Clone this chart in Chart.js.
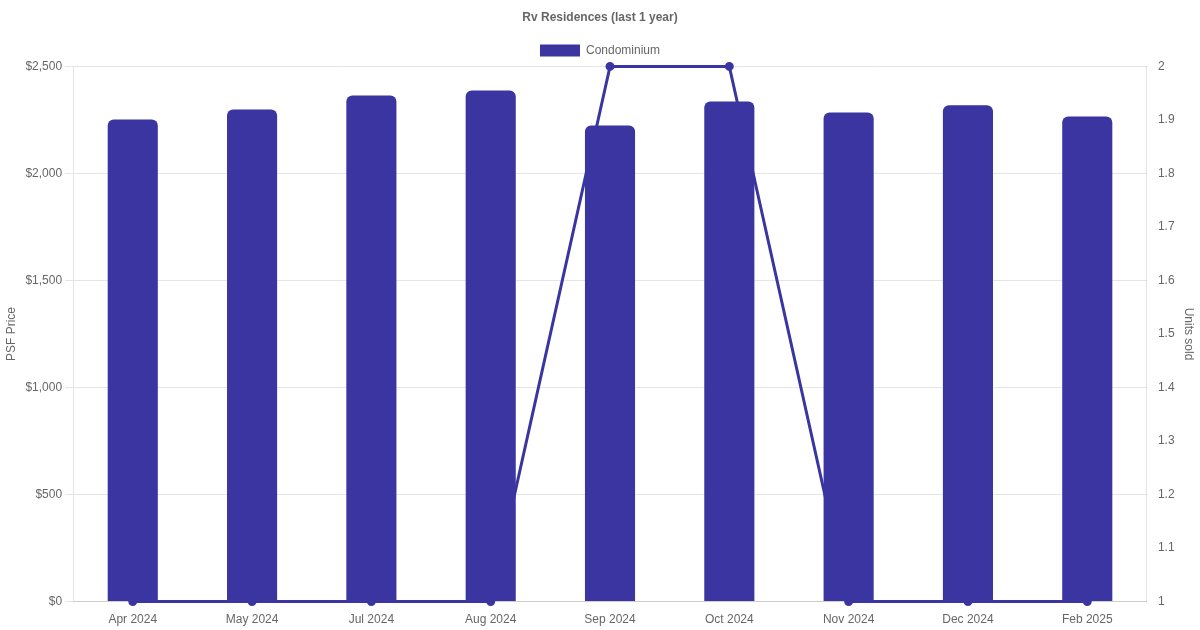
<!DOCTYPE html>
<html>
<head>
<meta charset="utf-8">
<script src="https://cdn.jsdelivr.net/npm/chart.js@4"></script>
<style>
  body { margin: 0; background: #fff; }
  #wrap { width: 1200px; height: 630px; }
</style>
</head>
<body>
<div id="wrap"><canvas id="chart"></canvas></div>
<script>
// values
var months = ['Apr 2024', 'May 2024', 'Jul 2024', 'Aug 2024', 'Sep 2024', 'Oct 2024', 'Nov 2024', 'Dec 2024', 'Feb 2025'];
var psfPrice = [2252, 2299, 2364, 2388, 2224, 2336, 2285, 2318, 2266];
var unitsSold = [1, 1, 1, 1, 2, 2, 1, 1, 1];

var color = '#3a35a0';
Chart.defaults.font.family = "'Liberation Sans', Arial, sans-serif";
Chart.defaults.color = '#666';

new Chart(document.getElementById('chart'), {
    type: 'bar',
    data: {
        labels: months,
        datasets: [{
            label: 'Condominium',
            data: psfPrice,
            backgroundColor: color,
            borderRadius: { topLeft: 6, topRight: 6 },
            borderSkipped: 'bottom',
            barPercentage: 0.5,
            categoryPercentage: 0.84,
            yAxisID: 'y',
            order: 1
        }, {
            type: 'line',
            label: 'Units',
            data: unitsSold,
            borderColor: color,
            backgroundColor: color,
            borderWidth: 3,
            pointRadius: 3,
            fill: false,
            clip: false,
            yAxisID: 'y1',
            order: 2
        }]
    },
    options: {
        responsive: true,
        maintainAspectRatio: false,
        animation: false,
        plugins: {
            title: {
                display: true,
                text: 'Rv Residences (last 1 year)',
                font: { size: 12, weight: 'bold' },
                padding: { top: 10, bottom: 10 }
            },
            legend: {
                labels: {
                    filter: function (item) { return item.datasetIndex === 0; },
                    font: { size: 12 }
                }
            }
        },
        scales: {
            x: {
                grid: { display: false }
            },
            y: {
                position: 'left',
                min: 0,
                max: 2500,
                ticks: {
                    stepSize: 500,
                    callback: function (v) { return '$' + v.toLocaleString('en-US'); }
                },
                title: { display: true, text: 'PSF Price' }
            },
            y1: {
                position: 'right',
                min: 1,
                max: 2,
                ticks: {
                    stepSize: 0.1,
                    callback: function (v) { return String(+v.toFixed(1)); }
                },
                grid: { display: false },
                title: { display: true, text: 'Units sold' }
            }
        }
    }
});
</script>
</body>
</html>
